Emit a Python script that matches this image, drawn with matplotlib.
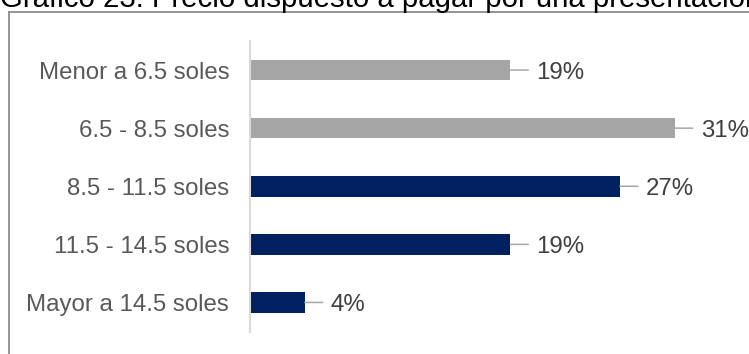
import matplotlib
matplotlib.use("Agg")
import matplotlib.pyplot as plt
from matplotlib.lines import Line2D

plt.rcParams["font.family"] = ["Liberation Sans", "DejaVu Sans"]

title = "Gráfico 23: Precio dispuesto a pagar por una presentación"
categories = ["Menor a 6.5 soles", "6.5 - 8.5 soles", "8.5 - 11.5 soles",
              "11.5 - 14.5 soles", "Mayor a 14.5 soles"]
values = [19, 31, 27, 19, 4]
highlight = [False, False, True, True, True]

GREY = "#a5a5a5"
NAVY = "#002060"

W, H, DPI = 749, 354, 100
fig = plt.figure(figsize=(W / DPI, H / DPI), dpi=DPI)

# Title (partly clipped at the top edge of the figure)
fig.text(0 / W, 1 - 7 / H, title, fontsize=21.2, color="black",
         ha="left", va="baseline")

# Frame around the chart: only its top and left edges fall inside the figure
frame_color = "#8c8c8c"
fig.add_artist(Line2D([8.5 / W, 1.0], [1 - 12 / H, 1 - 12 / H],
                      transform=fig.transFigure, color=frame_color, lw=1.3))
fig.add_artist(Line2D([8.5 / W, 8.5 / W], [1 - 12 / H, 0.0],
                      transform=fig.transFigure, color=frame_color, lw=1.3))

left_px, top_px, bottom_px = 250, 41, 331.5
px_per_unit = 13.7
xmax = 35
ax = fig.add_axes([left_px / W, 1 - bottom_px / H,
                   xmax * px_per_unit / W, (bottom_px - top_px) / H])

ypos = list(range(len(categories)))
colors = [NAVY if h else GREY for h in highlight]
ax.barh(ypos, values, height=0.355, color=colors, zorder=2)

ax.set_xlim(0, xmax)
ax.set_ylim(len(categories) - 0.5, -0.5)
ax.set_yticks(ypos)
ax.set_yticklabels(categories, fontsize=17.3, color="#595959")
ax.tick_params(axis="y", length=0, pad=15)
ax.set_xticks([])

for side in ("top", "right", "bottom"):
    ax.spines[side].set_visible(False)
ax.spines["left"].set_color("#d9d9d9")
ax.spines["left"].set_linewidth(1.5)
ax.patch.set_alpha(0)

# Data labels with short leader lines
for y, v in zip(ypos, values):
    ax.annotate("", xy=(v, y), xytext=(18, 0), textcoords="offset pixels",
                arrowprops=dict(arrowstyle="-", color="#a6a6a6", lw=1.1,
                                shrinkA=0, shrinkB=0))
    ax.annotate(f"{v}%", xy=(v, y), xytext=(26, 0), textcoords="offset pixels",
                ha="left", va="center_baseline", fontsize=17.3, color="#404040")

fig.savefig("out.png", dpi=DPI)
